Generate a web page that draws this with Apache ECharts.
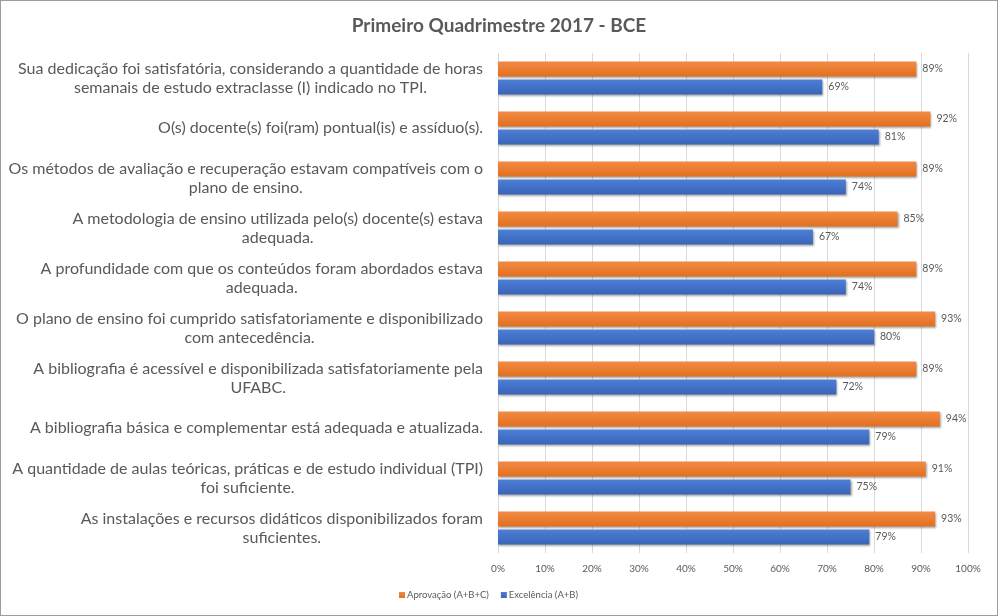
<!DOCTYPE html>
<html>
<head>
<meta charset="utf-8">
<script src="https://cdn.jsdelivr.net/npm/echarts@6/dist/echarts.min.js"></script>
<style>
html,body{margin:0;padding:0;background:#fff;}
#chart{width:998px;height:616px;box-sizing:border-box;border:1px solid #9c9c9c;}
</style>
</head>
<body>
<div id="chart"></div>
<script>
const categories = [
  "Sua dedicação foi satisfatória, considerando a quantidade de horas\nsemanais de estudo extraclasse (I) indicado no TPI.",
  "O(s) docente(s) foi(ram) pontual(is) e assíduo(s).",
  "Os métodos de avaliação e recuperação estavam compatíveis com o\nplano de ensino.",
  "A metodologia de ensino utilizada pelo(s) docente(s) estava\nadequada.",
  "A profundidade com que os conteúdos foram abordados estava\nadequada.",
  "O plano de ensino foi cumprido satisfatoriamente e disponibilizado\ncom antecedência.",
  "A bibliografia é acessível e disponibilizada satisfatoriamente pela\nUFABC.",
  "A bibliografia básica e complementar está adequada e atualizada.",
  "A quantidade de aulas teóricas, práticas e de estudo individual (TPI)\nfoi suficiente.",
  "As instalações e recursos didáticos disponibilizados foram\nsuficientes."
];
const aprovacao = [89, 92, 89, 85, 89, 93, 89, 94, 91, 93];
const excelencia = [69, 81, 74, 67, 74, 80, 72, 79, 75, 79];
const xTicks = [0, 10, 20, 30, 40, 50, 60, 70, 80, 90, 100];

const FONT = 'Lato, "Open Sans", sans-serif';
const chart = echarts.init(document.getElementById('chart'), null, {renderer: 'canvas'});

function grad(top, bottom) {
  return new echarts.graphic.LinearGradient(0, 0, 0, 1, [
    {offset: 0, color: top}, {offset: 1, color: bottom}
  ]);
}

const option = {
  backgroundColor: '#ffffff',
  animation: false,
  textStyle: {fontFamily: FONT},
  title: {
    text: 'Primeiro Quadrimestre 2017 - BCE',
    left: 'center',
    top: 10,
    textStyle: {fontFamily: FONT, fontSize: 19, fontWeight: 'bold', color: '#595959'}
  },
  legend: {
    bottom: 10,
    left: 393,
    itemWidth: 6,
    itemHeight: 6,
    itemGap: 12,
    icon: 'rect',
    textStyle: {fontFamily: FONT, fontSize: 9.5, color: '#595959', padding: [0, 0, 0, -3]},
    data: ['Aprovação (A+B+C)', 'Excelência (A+B)']
  },
  grid: {left: 497, right: 29, top: 52, bottom: 62, containLabel: false},
  xAxis: {
    type: 'value',
    min: xTicks[0],
    max: xTicks[xTicks.length - 1],
    interval: 10,
    axisLine: {show: false},
    axisTick: {show: false},
    axisLabel: {formatter: '{value}%', fontFamily: FONT, fontSize: 10, color: '#595959', margin: 11},
    splitLine: {show: true, lineStyle: {color: '#D9D9D9', width: 1}}
  },
  yAxis: {
    type: 'category',
    inverse: true,
    data: categories,
    axisLine: {show: false},
    axisTick: {show: false},
    axisLabel: {
      margin: 15,
      fontFamily: FONT,
      fontSize: 16,
      color: '#595959',
      lineHeight: 19,
      formatter: function (v) {
        return v.split('\n').map(function (l) { return '{c|' + l + '}'; }).join('\n');
      },
      rich: {
        c: {align: 'center', fontFamily: FONT, fontSize: 16, color: '#595959', lineHeight: 19}
      }
    }
  },
  series: [
    {
      name: 'Aprovação (A+B+C)',
      type: 'bar',
      data: aprovacao,
      barWidth: 15,
      barGap: '20%',
      itemStyle: {
        color: grad('#F28B45', '#E2701F'),
        shadowColor: 'rgba(0,0,0,0.35)',
        shadowBlur: 2,
        shadowOffsetX: 1,
        shadowOffsetY: 1
      },
      label: {show: true, position: 'right', distance: 6, formatter: '{c}%', fontFamily: FONT, fontSize: 10.5, color: '#595959'}
    },
    {
      name: 'Excelência (A+B)',
      type: 'bar',
      data: excelencia,
      barWidth: 15,
      barGap: '20%',
      itemStyle: {
        color: grad('#4C7FD6', '#3A64B8'),
        shadowColor: 'rgba(0,0,0,0.35)',
        shadowBlur: 2,
        shadowOffsetX: 1,
        shadowOffsetY: 1
      },
      label: {show: true, position: 'right', distance: 6, formatter: '{c}%', fontFamily: FONT, fontSize: 10.5, color: '#595959'}
    }
  ],
  color: ['#ED7D31', '#4472C4']
};
chart.setOption(option);
</script>
</body>
</html>
